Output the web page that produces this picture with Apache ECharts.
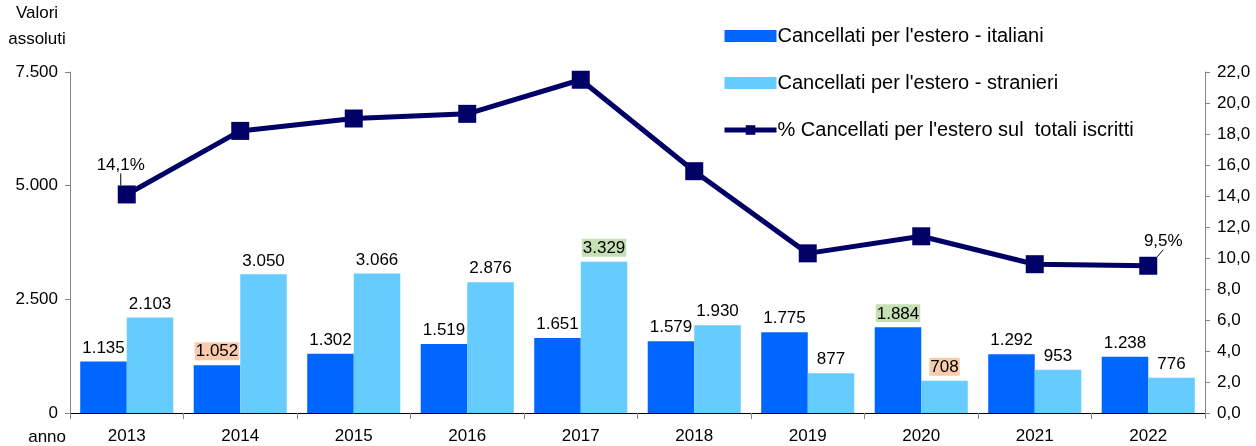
<!DOCTYPE html>
<html>
<head>
<meta charset="utf-8">
<title>Cancellati per l'estero</title>
<script src="https://cdn.jsdelivr.net/npm/echarts@6/dist/echarts.min.js"></script>
<style>
  html, body { margin: 0; padding: 0; background: #fff; }
  #chart { width: 1256px; height: 446px; }
</style>
</head>
<body>
<div id="chart"></div>
<script>
const years = ['2013', '2014', '2015', '2016', '2017', '2018', '2019', '2020', '2021', '2022']
const italiani = [1135, 1052, 1302, 1519, 1651, 1579, 1775, 1884, 1292, 1238]
const stranieri = [2103, 3050, 3066, 2876, 3329, 1930, 877, 708, 953, 776]
const percentuale = [14.1, 18.2, 19.0, 19.3, 21.5, 15.6, 10.3, 11.4, 9.6, 9.5]

// label highlight (min/max) backgrounds
const salmon = '#F8CBAD'
const green = '#C5E0B4'
const highlightItaliani = { 1: salmon, 7: green }
const highlightStranieri = { 4: green, 7: salmon }

const font = 'Liberation Sans, Arial, sans-serif'

function fmtThousands(v) {
  return String(Math.round(v)).replace(/\B(?=(\d{3})+(?!\d))/g, '.')
}
function fmtDec(v) {
  return v.toFixed(1).replace('.', ',')
}

function barData(values, highlights) {
  return values.map((v, i) => {
    if (!highlights[i]) return v
    return { value: v, label: { backgroundColor: highlights[i], padding: [1, 1, 0, 1] } }
  })
}

const lastIdx = percentuale.length - 1
function lineData(values) {
  return values.map((v, i) => {
    if (i === 0 || i === lastIdx) return { value: v, label: { show: true } }
    return v
  })
}

const chart = echarts.init(document.getElementById('chart'))

const option = {
  backgroundColor: '#fff',
  animation: false,
  textStyle: { fontFamily: font, color: '#000' },
  grid: { left: 70, right: 51, top: 72, bottom: 32, containLabel: false },
  legend: {
    orient: 'vertical',
    left: 717,
    top: 21,
    itemGap: 27,
    itemWidth: 52,
    itemHeight: 12,
    textStyle: { fontSize: 20, color: '#000', fontFamily: font, padding: [0, 0, 0, -4] },
    data: [
      { name: "Cancellati per l'estero - italiani", icon: 'rect' },
      { name: "Cancellati per l'estero - stranieri", icon: 'rect' },
      { name: "% Cancellati per l'estero sul  totali iscritti", lineStyle: { width: 5 } }
    ]
  },
  xAxis: {
    type: 'category',
    data: years,
    name: 'anno',
    nameLocation: 'start',
    nameGap: 4,
    nameTextStyle: { fontSize: 17, color: '#000', verticalAlign: 'top', padding: [16, 0, 0, 0] },
    axisLine: { lineStyle: { color: '#000', width: 1 } },
    axisTick: { show: true, alignWithLabel: false, length: 6, lineStyle: { color: '#868686' } },
    axisLabel: { fontSize: 17, color: '#000', margin: 15 },
    splitLine: { show: false }
  },
  yAxis: [
    {
      type: 'value',
      min: 0,
      max: 7500,
      interval: 2500,
      name: 'Valori\nassoluti',
      nameLocation: 'end',
      nameGap: 20,
      nameTextStyle: { fontSize: 17, color: '#000', align: 'center', lineHeight: 26, padding: [0, 0, 0, -66] },
      axisLine: { show: true, lineStyle: { color: '#868686' } },
      axisTick: { show: true, length: 5, lineStyle: { color: '#868686' } },
      axisLabel: { fontSize: 17, color: '#000', margin: 12, formatter: fmtThousands },
      splitLine: { show: false }
    },
    {
      type: 'value',
      min: 0,
      max: 22,
      interval: 2,
      position: 'right',
      axisLine: { show: true, lineStyle: { color: '#868686' } },
      axisTick: { show: true, length: 5, lineStyle: { color: '#868686' } },
      axisLabel: { fontSize: 17, color: '#000', margin: 12, formatter: fmtDec },
      splitLine: { show: false }
    }
  ],
  series: [
    {
      name: "Cancellati per l'estero - italiani",
      type: 'bar',
      data: barData(italiani, highlightItaliani),
      itemStyle: { color: '#0066FF' },
      barWidth: '41%',
      barGap: '0%',
      label: { show: true, position: 'top', distance: 5, fontSize: 17, color: '#000', formatter: p => fmtThousands(p.value) }
    },
    {
      name: "Cancellati per l'estero - stranieri",
      type: 'bar',
      data: barData(stranieri, highlightStranieri),
      itemStyle: { color: '#66CCFF' },
      barWidth: '41%',
      barGap: '0%',
      label: { show: true, position: 'top', distance: 5, fontSize: 17, color: '#000', formatter: p => fmtThousands(p.value) }
    },
    {
      name: "% Cancellati per l'estero sul  totali iscritti",
      type: 'line',
      yAxisIndex: 1,
      data: lineData(percentuale),
      symbol: 'rect',
      symbolSize: 18,
      lineStyle: { color: '#000066', width: 5 },
      itemStyle: { color: '#000066' },
      label: {
        show: false,
        position: 'top',
        distance: 14,
        fontSize: 17,
        color: '#000',
        formatter: p => fmtDec(p.value) + '%'
      },
      labelLayout: p => {
        if (p.dataIndex === 0) return { dx: -6, dy: 2 }
        if (p.dataIndex === lastIdx) return { dx: 15, dy: 7 }
        return {}
      },
      labelLine: { show: true, length2: 0, lineStyle: { color: '#000', width: 1 } },
      z: 5
    }
  ]
}

chart.setOption(option)
window.addEventListener('resize', () => chart.resize())
</script>
</body>
</html>
